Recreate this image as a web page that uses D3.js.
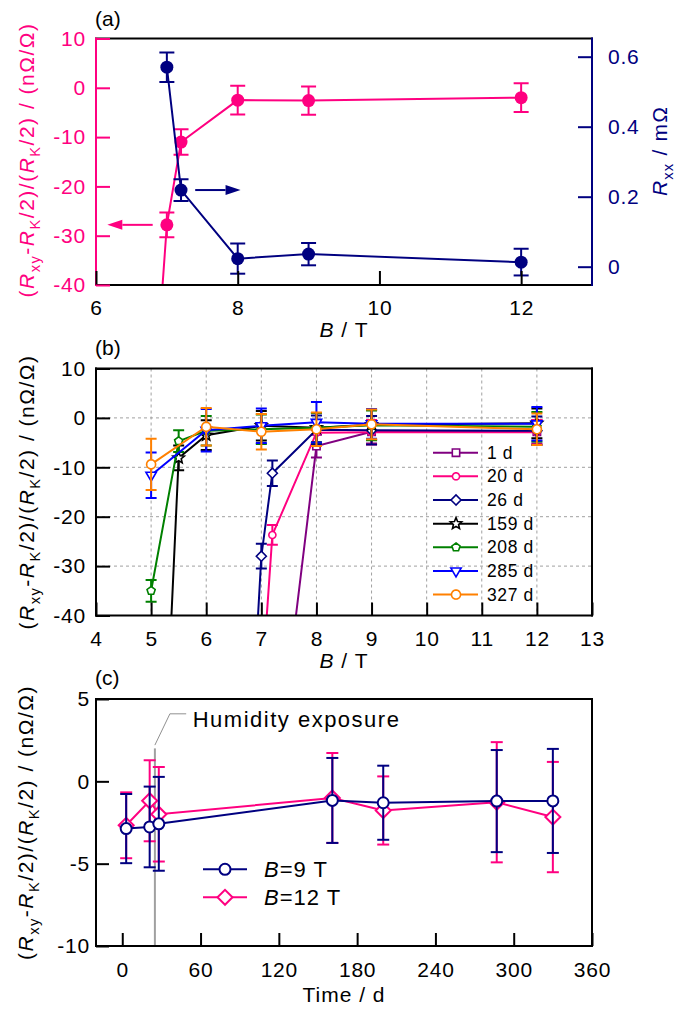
<!DOCTYPE html>
<html>
<head>
<meta charset="utf-8">
<script src="https://cdn.jsdelivr.net/npm/d3@7"></script>
<style>
  body { margin: 0; background: #fff; }
  svg { display: block; font-family: "Liberation Sans", Arial, sans-serif; }
</style>
</head>
<body>
<svg width="689" height="1010"></svg>
<script>
// ---- panel (a): deviation (left axis) and Rxx (right axis) vs B, 26 d sample
const aB = [6.8, 7, 7.2, 8, 9, 12];
const aDev = [-68, -27.8, -11.0, -2.5, -2.6, -2.0];
const aDevErr = [0, 2.5, 2.6, 2.9, 2.85, 2.9];
const aRxxB = [7, 7.2, 8, 9, 12];
const aRxx = [0.570, 0.219, 0.023, 0.036, 0.013];
const aRxxErr = [0.042, 0.031, 0.043, 0.032, 0.038];
const aTicksX = [6, 8, 10, 12];
const aTicksL = [10, 0, -10, -20, -30, -40];
const aTicksR = [0, 0.2, 0.4, 0.6];

// ---- panel (b): deviation vs B for each sample age
const bLabels = ["1 d", "20 d", "26 d", "159 d", "208 d", "285 d", "327 d"];
const d1B = [7, 8, 9, 12],             d1V = [-98, -5.7, -2.8, -2.8],              d1E = [0, 2.3, 2.4, 2.4];
const d20B = [7, 7.2, 8, 9, 12],       d20V = [-56, -23.7, -3.0, -2.9, -2.9],      d20E = [0, 2.0, 2.5, 2.5, 2.5];
const d26B = [6.8, 7, 7.2, 8, 9, 12],  d26V = [-68, -28, -11.2, -2.4, -2.5, -2.6], d26E = [0, 2.5, 2.6, 2.9, 2.9, 2.9];
const d159B = [5, 5.5, 6, 7, 8, 9, 12], d159V = [-130, -8.1, -3.5, -1.6, -2.0, -1.4, -1.1], d159E = [0, 2.5, 3, 3, 3, 3, 3];
const d208B = [5, 5.5, 6, 7, 8, 9, 12], d208V = [-35, -4.7, -2.6, -2.3, -2.0, -1.5, -1.8], d208E = [2.2, 2.2, 3, 3, 3, 3, 3];
const d285B = [5, 6, 7, 8, 9, 12],     d285V = [-11.6, -2.5, -1.6, -0.9, -1.2, -1.2], d285E = [4.6, 4.3, 3.5, 4.1, 3.0, 3.4];
const d327B = [5, 6, 7, 8, 9, 12],     d327V = [-9.4, -1.8, -2.8, -2.3, -1.3, -2.3],  d327E = [5.2, 3.8, 3.6, 3.4, 3.0, 3.2];
const bTicksX = [4, 5, 6, 7, 8, 9, 10, 11, 12, 13];
const bTicksY = [10, 0, -10, -20, -30, -40];

// ---- panel (c): deviation vs time
const cDays = [3, 21, 28, 161, 200, 287, 330];
const c9T = [-2.87, -2.77, -2.58, -1.16, -1.30, -1.20, -1.19];
const c9TErr = [2.1, 2.45, 2.85, 2.58, 2.25, 3.1, 3.16];
const c12T = [-2.67, -1.18, -2.0, -1.01, -1.77, -1.27, -2.17];
const c12TErr = [2.0, 2.46, 2.87, 2.73, 2.07, 3.65, 3.35];
const cTicksX = [0, 60, 120, 180, 240, 300, 360];
const cTicksY = [5, 0, -5, -10];
const humidityDay = 25;

const PINK = "#ff0080", NAVY = "#000080";
const bColors = ["#800080", "#ff0080", "#000080", "#000000", "#008000", "#0000ff", "#ff8000"];
const FS = 21;

const svg = d3.select("svg");
const left = 96, right = 592;

function rich(sel, parts, size) {
  let down = false;
  parts.forEach(([t, k]) => {
    const ts = sel.append("tspan").text(t);
    if (k === "i") ts.style("font-style", "italic");
    if (k === "s") {
      ts.attr("font-size", size * 0.7);
      if (!down) ts.attr("dy", size * 0.28);
      down = true;
    } else if (down) {
      ts.attr("dy", -size * 0.28);
      down = false;
    }
  });
}
const devLabel = [["(", ""], ["R", "i"], ["xy", "s"], ["-", ""], ["R", "i"], ["K", "s"], ["/2)/(", ""],
  ["R", "i"], ["K", "s"], ["/2) / (nΩ/Ω)", ""]];

function yTitle(cx, cy, color, parts, ls) {
  const t = svg.append("text")
    .attr("transform", `translate(${cx},${cy}) rotate(-90)`)
    .attr("text-anchor", "middle")
    .attr("font-size", FS)
    .attr("letter-spacing", ls)
    .attr("fill", color);
  rich(t, parts, FS);
}
function xTitle(cx, y, parts) {
  const t = svg.append("text").attr("x", cx).attr("y", y)
    .attr("text-anchor", "middle").attr("font-size", FS).attr("letter-spacing", 1);
  rich(t, parts, FS);
}
function panelTag(txt, y) {
  svg.append("text").attr("x", 95).attr("y", y).attr("font-size", FS).text(txt);
}
function styleAxis(g, color) {
  g.attr("color", color).attr("font-size", FS).attr("font-family", null)
    .attr("letter-spacing", 0.8);
  g.select(".domain").remove();
  g.selectAll(".tick line").attr("stroke-width", 2);
}
function spine(x1, y1, x2, y2, color) {
  svg.append("line").attr("x1", x1).attr("y1", y1).attr("x2", x2).attr("y2", y2)
    .attr("stroke", color).attr("stroke-width", 2).attr("stroke-linecap", "square");
}
function clipFor(id, x0, y0, x1, y1) {
  svg.append("clipPath").attr("id", id).append("rect")
    .attr("x", x0).attr("y", y0).attr("width", x1 - x0).attr("height", y1 - y0);
}
function errBars(g, xs, vs, es, x, y, color, cap) {
  xs.forEach((b, i) => {
    if (!es[i]) return;
    const px = x(b), y0 = y(vs[i] - es[i]), y1 = y(vs[i] + es[i]);
    g.append("line").attr("x1", px).attr("x2", px).attr("y1", y0).attr("y2", y1)
      .attr("stroke", color).attr("stroke-width", 2);
    [y0, y1].forEach(yy => g.append("line").attr("x1", px - cap).attr("x2", px + cap)
      .attr("y1", yy).attr("y2", yy).attr("stroke", color).attr("stroke-width", 2));
  });
}
function arrow(x1, x2, y, color) {
  const dir = Math.sign(x2 - x1), hl = 15, hw = 5;
  svg.append("line").attr("x1", x1).attr("x2", x2 - dir * hl).attr("y1", y).attr("y2", y)
    .attr("stroke", color).attr("stroke-width", 2);
  svg.append("path").attr("d", `M${x2},${y}L${x2 - dir * hl},${y - hw}L${x2 - dir * hl},${y + hw}Z`)
    .attr("fill", color);
}

// marker shapes
function poly(n, r, rot, inner) {
  const pts = [];
  const k = inner ? 2 * n : n;
  for (let i = 0; i < k; i++) {
    const a = (rot + i * 360 / k) * Math.PI / 180;
    const rr = inner && i % 2 ? r * inner : r;
    pts.push([rr * Math.cos(a), rr * Math.sin(a)]);
  }
  return "M" + pts.map(p => p[0].toFixed(2) + "," + p[1].toFixed(2)).join("L") + "Z";
}
const markerPaths = [
  poly(4, 5.2, 45),        // square
  poly(40, 3.5, 0),        // circle
  poly(4, 5, 90),          // diamond
  poly(5, 6, -90, 0.45),   // star
  poly(5, 4.3, -90),       // pentagon
  poly(3, 6, 90),          // down triangle
  poly(40, 4.5, 0)         // circle
];

// ================= panel (a) =================
{
  const top = 38.5, bottom = 285;
  const x = d3.scaleLinear().domain([6, 13]).range([left, right]);
  const yL = d3.scaleLinear().domain([-40, 10]).range([bottom, top]);
  const yR = d3.scaleLinear().domain([-0.0523, 0.652]).range([bottom, top]);
  clipFor("clipA", left, top, right, bottom);
  const g = svg.append("g").attr("clip-path", "url(#clipA)");

  g.append("path").datum(aB.map((b, i) => [b, aDev[i]]))
    .attr("d", d3.line().x(d => x(d[0])).y(d => yL(d[1])))
    .attr("fill", "none").attr("stroke", PINK).attr("stroke-width", 2);
  errBars(g, aB, aDev, aDevErr, x, yL, PINK, 7.5);
  g.selectAll(".pk").data(aB.map((b, i) => [b, aDev[i]])).enter().append("circle")
    .attr("cx", d => x(d[0])).attr("cy", d => yL(d[1])).attr("r", 6.5).attr("fill", PINK);

  g.append("path").datum(aRxxB.map((b, i) => [b, aRxx[i]]))
    .attr("d", d3.line().x(d => x(d[0])).y(d => yR(d[1])))
    .attr("fill", "none").attr("stroke", NAVY).attr("stroke-width", 2);
  errBars(g, aRxxB, aRxx, aRxxErr, x, yR, NAVY, 7.5);
  g.selectAll(".nv").data(aRxxB.map((b, i) => [b, aRxx[i]])).enter().append("circle")
    .attr("cx", d => x(d[0])).attr("cy", d => yR(d[1])).attr("r", 6.5).attr("fill", NAVY);

  arrow(x(6.8), x(6.16), yL(aDev[1]), PINK);
  arrow(x(7.4), x(8.04), yR(aRxx[1]), NAVY);

  spine(left, top, right, top, "#000");
  spine(left, bottom, right, bottom, "#000");
  spine(left, top, left, bottom, PINK);
  spine(right, top, right, bottom, NAVY);

  svg.append("g").attr("transform", `translate(0,${bottom})`)
    .call(d3.axisBottom(x).tickValues(aTicksX).tickSize(-14).tickSizeOuter(0).tickPadding(15).tickFormat(d => String(d)))
    .call(s => styleAxis(s, "#000"));
  svg.append("g").attr("transform", `translate(${left},0)`)
    .call(d3.axisLeft(yL).tickValues(aTicksL).tickSize(-14).tickSizeOuter(0).tickPadding(10).tickFormat(d => String(d)))
    .call(s => styleAxis(s, PINK));
  svg.append("g").attr("transform", `translate(${right},0)`)
    .call(d3.axisRight(yR).tickValues(aTicksR).tickSize(-14).tickSizeOuter(0).tickPadding(16).tickFormat(d => String(d)))
    .call(s => styleAxis(s, NAVY));

  panelTag("(a)", 26);
  yTitle(34, 160, PINK, devLabel, 1.5);
  yTitle(667, 151, NAVY, [["R", "i"], ["xx", "s"], [" / mΩ", ""]], 1.2);
  xTitle((left + right) / 2, 337, [["B", "i"], [" / T", ""]]);
}

// ================= panel (b) =================
{
  const top = 368.5, bottom = 615.5;
  const x = d3.scaleLinear().domain([4, 13]).range([left, right]);
  const y = d3.scaleLinear().domain([-40, 10]).range([bottom, top]);
  const series = [
    { B: d1B, v: d1V, e: d1E }, { B: d20B, v: d20V, e: d20E }, { B: d26B, v: d26V, e: d26E },
    { B: d159B, v: d159V, e: d159E }, { B: d208B, v: d208V, e: d208E },
    { B: d285B, v: d285V, e: d285E }, { B: d327B, v: d327V, e: d327E }
  ];

  const grid = svg.append("g").attr("stroke", "#a0a0a0").attr("stroke-dasharray", "3,3").attr("stroke-width", 1);
  bTicksX.slice(1, -1).forEach(t => grid.append("line").attr("x1", x(t)).attr("x2", x(t)).attr("y1", top).attr("y2", bottom));
  bTicksY.slice(1, -1).forEach(t => grid.append("line").attr("x1", left).attr("x2", right).attr("y1", y(t)).attr("y2", y(t)));

  clipFor("clipB", left, top, right, bottom);
  const g = svg.append("g").attr("clip-path", "url(#clipB)");
  series.forEach((s, k) => {
    const pts = s.B.map((b, i) => [b, s.v[i]]);
    g.append("path").datum(pts)
      .attr("d", d3.line().x(d => x(d[0])).y(d => y(d[1])))
      .attr("fill", "none").attr("stroke", bColors[k]).attr("stroke-width", 2);
    errBars(g, s.B, s.v, s.e, x, y, bColors[k], 5.5);
    g.selectAll(null).data(pts).enter().append("path")
      .attr("transform", d => `translate(${x(d[0])},${y(d[1])})`)
      .attr("d", markerPaths[k]).attr("fill", "#fff")
      .attr("stroke", bColors[k]).attr("stroke-width", 1.6);
  });

  spine(left, top, right, top, "#000");
  spine(left, bottom, right, bottom, "#000");
  spine(left, top, left, bottom, "#000");
  spine(right, top, right, bottom, "#000");

  svg.append("g").attr("transform", `translate(0,${bottom})`)
    .call(d3.axisBottom(x).tickValues(bTicksX).tickSize(-13).tickSizeOuter(0).tickPadding(16).tickFormat(d => String(d)))
    .call(s => styleAxis(s, "#000"));
  svg.append("g").attr("transform", `translate(${left},0)`)
    .call(d3.axisLeft(y).tickValues(bTicksY).tickSize(-14).tickSizeOuter(0).tickPadding(10).tickFormat(d => String(d)))
    .call(s => styleAxis(s, "#000"));

  // legend
  const lg = svg.append("g");
  bLabels.forEach((lab, k) => {
    const ly = 452.7 + k * 23.65;
    lg.append("line").attr("x1", 433).attr("x2", 478).attr("y1", ly).attr("y2", ly)
      .attr("stroke", bColors[k]).attr("stroke-width", 2);
    lg.append("path").attr("transform", `translate(456,${ly})`).attr("d", markerPaths[k])
      .attr("fill", "#fff").attr("stroke", bColors[k]).attr("stroke-width", 1.6);
    lg.append("text").attr("x", 487).attr("y", ly + 6).attr("font-size", 17.5)
      .attr("letter-spacing", 0.6).text(lab);
  });

  panelTag("(b)", 355);
  yTitle(34, (top + bottom) / 2, "#000", devLabel, 1.5);
  xTitle((left + right) / 2, 668, [["B", "i"], [" / T", ""]]);
}

// ================= panel (c) =================
{
  const top = 699, bottom = 946;
  const x = d3.scaleLinear().domain([-19.9, 360]).range([left + 0.3, right]);
  const y = d3.scaleLinear().domain([-10, 5]).range([bottom, top]);

  // humidity exposure marker
  const hx = x(humidityDay);
  svg.append("line").attr("x1", hx).attr("x2", hx).attr("y1", y(2)).attr("y2", bottom)
    .attr("stroke", "#a0a0a0").attr("stroke-width", 2);
  svg.append("path").attr("d", `M${hx},${y(2.2)}L${x(36.5)},${y(4.1)}L${x(49)},${y(4.1)}`)
    .attr("fill", "none").attr("stroke", "#909090").attr("stroke-width", 1);
  svg.append("text").attr("x", x(54)).attr("y", y(3.32)).attr("font-size", 22)
    .attr("letter-spacing", 1.5).text("Humidity exposure");

  clipFor("clipC", left, top, right, bottom);
  const g = svg.append("g").attr("clip-path", "url(#clipC)");
  const diamond = poly(4, 7.5, 90);

  // B = 12 T
  const p12 = cDays.map((d, i) => [d, c12T[i]]);
  g.append("path").datum(p12).attr("d", d3.line().x(d => x(d[0])).y(d => y(d[1])))
    .attr("fill", "none").attr("stroke", PINK).attr("stroke-width", 2);
  errBars(g, cDays, c12T, c12TErr, x, y, PINK, 6);
  g.selectAll(null).data(p12).enter().append("path")
    .attr("transform", d => `translate(${x(d[0])},${y(d[1])})`).attr("d", diamond)
    .attr("fill", "#fff").attr("stroke", PINK).attr("stroke-width", 2);

  // B = 9 T
  const p9 = cDays.map((d, i) => [d, c9T[i]]);
  g.append("path").datum(p9).attr("d", d3.line().x(d => x(d[0])).y(d => y(d[1])))
    .attr("fill", "none").attr("stroke", NAVY).attr("stroke-width", 2);
  errBars(g, cDays, c9T, c9TErr, x, y, NAVY, 6);
  g.selectAll(null).data(p9).enter().append("circle")
    .attr("cx", d => x(d[0])).attr("cy", d => y(d[1])).attr("r", 5.5)
    .attr("fill", "#fff").attr("stroke", NAVY).attr("stroke-width", 2);

  spine(left, top, right, top, "#000");
  spine(left, bottom, right, bottom, "#000");
  spine(left, top, left, bottom, "#000");
  spine(right, top, right, bottom, "#000");

  svg.append("g").attr("transform", `translate(0,${bottom})`)
    .call(d3.axisBottom(x).tickValues(cTicksX).tickSize(-13).tickSizeOuter(0).tickPadding(16).tickFormat(d => String(d)))
    .call(s => styleAxis(s, "#000"));
  svg.append("g").attr("transform", `translate(${left},0)`)
    .call(d3.axisLeft(y).tickValues(cTicksY).tickSize(-13).tickSizeOuter(0).tickPadding(6).tickFormat(d => String(d)))
    .call(s => styleAxis(s, "#000"));

  // legend
  const lg = svg.append("g");
  [[NAVY, "9 T", 869.3], [PINK, "12 T", 897.3]].forEach(([col, lab, ly], k) => {
    lg.append("line").attr("x1", 203).attr("x2", 247).attr("y1", ly).attr("y2", ly)
      .attr("stroke", col).attr("stroke-width", 2);
    if (k === 0) lg.append("circle").attr("cx", 225).attr("cy", ly).attr("r", 5.5)
      .attr("fill", "#fff").attr("stroke", col).attr("stroke-width", 2);
    else lg.append("path").attr("transform", `translate(225,${ly})`).attr("d", diamond)
      .attr("fill", "#fff").attr("stroke", col).attr("stroke-width", 2);
    const t = lg.append("text").attr("x", 264).attr("y", ly + 7.5).attr("font-size", 22).attr("letter-spacing", 1);
    rich(t, [["B", "i"], ["=" + lab, ""]], 22);
  });

  panelTag("(c)", 685);
  yTitle(33, (top + bottom) / 2, "#000", devLabel, 1.5);
  xTitle((left + right) / 2, 1002, [["Time / d", ""]]);
}
</script>
</body>
</html>
